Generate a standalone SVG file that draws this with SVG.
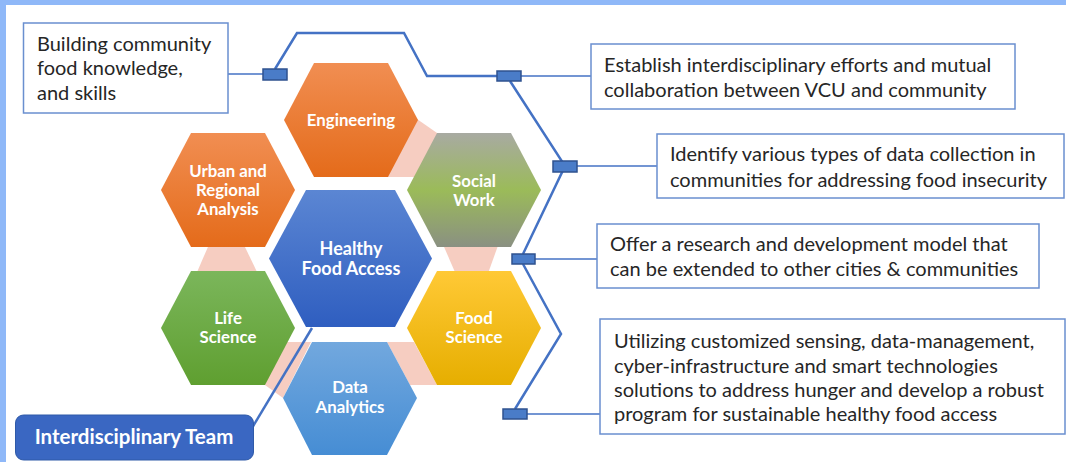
<svg xmlns="http://www.w3.org/2000/svg" width="1066" height="462" viewBox="0 0 1066 462">
<style>
.box{fill:#ffffff;stroke:#6a8fcf;stroke-width:1.5}
.bt{font-family:Lato,"Liberation Sans",sans-serif;font-size:20px;fill:#262626}
.ht{font-family:Lato,"Liberation Sans",sans-serif;font-weight:bold;font-size:16.8px;fill:#ffffff;text-anchor:middle}
.hb{font-size:18px}
.con{fill:none;stroke:#4472c4;stroke-width:2.5;stroke-linejoin:miter}
.thin{fill:none;stroke:#4472c4;stroke-width:1.6}
.tab{fill:#4a7cc8;stroke:#2f528f;stroke-width:1.5}
.pink{fill:#f6cdc1}
</style>
<defs>
<linearGradient id="gOr" x1="0" y1="0" x2="0" y2="1"><stop offset="0" stop-color="#f18e52"/><stop offset="1" stop-color="#e46b1a"/></linearGradient>
<linearGradient id="gSo" x1="0" y1="0" x2="0" y2="1"><stop offset="0" stop-color="#a8aaa2"/><stop offset="0.5" stop-color="#9bbb59"/><stop offset="1" stop-color="#8a9082"/></linearGradient>
<linearGradient id="gHe" x1="0" y1="0" x2="0" y2="1"><stop offset="0" stop-color="#5b86d3"/><stop offset="1" stop-color="#2f5ec0"/></linearGradient>
<linearGradient id="gLi" x1="0" y1="0" x2="0" y2="1"><stop offset="0" stop-color="#7bb65b"/><stop offset="1" stop-color="#5f9f30"/></linearGradient>
<linearGradient id="gFo" x1="0" y1="0" x2="0" y2="1"><stop offset="0" stop-color="#ffc936"/><stop offset="1" stop-color="#e6ae00"/></linearGradient>
<linearGradient id="gDa" x1="0" y1="0" x2="0" y2="1"><stop offset="0" stop-color="#72a8de"/><stop offset="1" stop-color="#468dd4"/></linearGradient>
</defs>
<rect x="0" y="0" width="1066" height="462" fill="#ffffff"/>
<rect x="0" y="0" width="1066" height="5" fill="#8fb8f8"/>
<rect x="0" y="0" width="6" height="462" fill="#8fb8f8"/>

<g id="links">
<polygon class="pink" points="404,110 450,142 420,177 380,177"/>
<polygon class="pink" points="211,240 241.6,240 260.4,279 194,279"/>
<polygon class="pink" points="441,240 500,240 486,279 458,279"/>
<polygon class="pink" points="280,342 311,342 283,398 265,385 262,380"/>
<polygon class="pink" points="387,342 414,342 437,385 410,385"/>
</g>

<g id="engineering">
<polygon points="284,120 314,63 388,63 418,120 388,177 314,177" fill="url(#gOr)"/>
<text class="ht" x="351" y="126">Engineering</text>
</g>
<g id="urban">
<polygon points="161,190 191,133 265,133 295,190 265,247 191,247" fill="url(#gOr)"/>
<text class="ht" x="228" y="177">Urban and</text>
<text class="ht" x="228" y="196">Regional</text>
<text class="ht" x="228" y="215">Analysis</text>
</g>
<g id="social">
<polygon points="407,190 437,133 511,133 541,190 511,247 437,247" fill="url(#gSo)"/>
<text class="ht" x="474" y="187">Social</text>
<text class="ht" x="474" y="206">Work</text>
</g>
<g id="healthy">
<polygon points="269,258.5 306,190 395,190 432,258.5 395,327 306,327" fill="url(#gHe)"/>
<text class="ht hb" x="351" y="255">Healthy</text>
<text class="ht hb" x="351" y="275">Food Access</text>
</g>
<g id="life">
<polygon points="161,328 191,271 265,271 295,328 265,385 191,385" fill="url(#gLi)"/>
<text class="ht" x="228" y="324">Life</text>
<text class="ht" x="228" y="343">Science</text>
</g>
<g id="food">
<polygon points="407,328 437,271 511,271 541,328 511,385 437,385" fill="url(#gFo)"/>
<text class="ht" x="474" y="324">Food</text>
<text class="ht" x="474" y="343">Science</text>
</g>
<g id="data">
<polygon points="283,398 312,342 387,342 417,398 387,455 312,455" fill="url(#gDa)"/>
<text class="ht" x="350" y="393">Data</text>
<text class="ht" x="350" y="413">Analytics</text>
</g>

<g id="connectors">
<path class="thin" d="M228,74 H263"/>
<path class="con" d="M275,69 L297,33 H404 L427,76 H497"/>
<path class="thin" d="M521,76 H591"/>
<path class="con" d="M510,81 L565,166 L523,254"/>
<path class="thin" d="M577,166 H657"/>
<path class="thin" d="M535,259 H597"/>
<path class="con" d="M523,264 L561,334 L515,409"/>
<path class="thin" d="M527,414 H600"/>
<path class="con" d="M252,428 L312,328"/>
<rect class="tab" x="263" y="69" width="24" height="11"/>
<rect class="tab" x="497" y="71" width="24" height="10"/>
<rect class="tab" x="553" y="161" width="24" height="11"/>
<rect class="tab" x="512" y="254" width="23" height="10"/>
<rect class="tab" x="503" y="409" width="24" height="10"/>
</g>

<g id="box1">
<rect class="box" x="23.5" y="23" width="204.5" height="90"/>
<text class="bt" x="37" y="51">Building community</text>
<text class="bt" x="37" y="75">food knowledge,</text>
<text class="bt" x="37" y="100">and skills</text>
</g>
<g id="box2">
<rect class="box" x="591" y="44" width="424" height="65"/>
<text class="bt" x="604" y="72">Establish interdisciplinary efforts and mutual</text>
<text class="bt" x="604" y="97">collaboration between VCU and community</text>
</g>
<g id="box3">
<rect class="box" x="657" y="134" width="407" height="64"/>
<text class="bt" x="670" y="161">Identify various types of data collection in</text>
<text class="bt" x="670" y="187">communities for addressing food insecurity</text>
</g>
<g id="box4">
<rect class="box" x="597" y="224" width="442" height="64"/>
<text class="bt" x="610" y="251">Offer a research and development model that</text>
<text class="bt" x="610" y="276">can be extended to other cities &amp; communities</text>
</g>
<g id="box5">
<rect class="box" x="600" y="319" width="465" height="115"/>
<text class="bt" x="614" y="348">Utilizing customized sensing, data-management,</text>
<text class="bt" x="614" y="373">cyber-infrastructure and smart technologies</text>
<text class="bt" x="614" y="397">solutions to address hunger and develop a robust</text>
<text class="bt" x="614" y="421">program for sustainable healthy food access</text>
</g>
<g id="team">
<rect x="15.5" y="415" width="238" height="45" rx="8" fill="#3a67c2" stroke="#2f5aa8" stroke-width="1"/>
<text class="ht" x="134" y="444" style="font-size:20.5px">Interdisciplinary Team</text>
</g>
</svg>
